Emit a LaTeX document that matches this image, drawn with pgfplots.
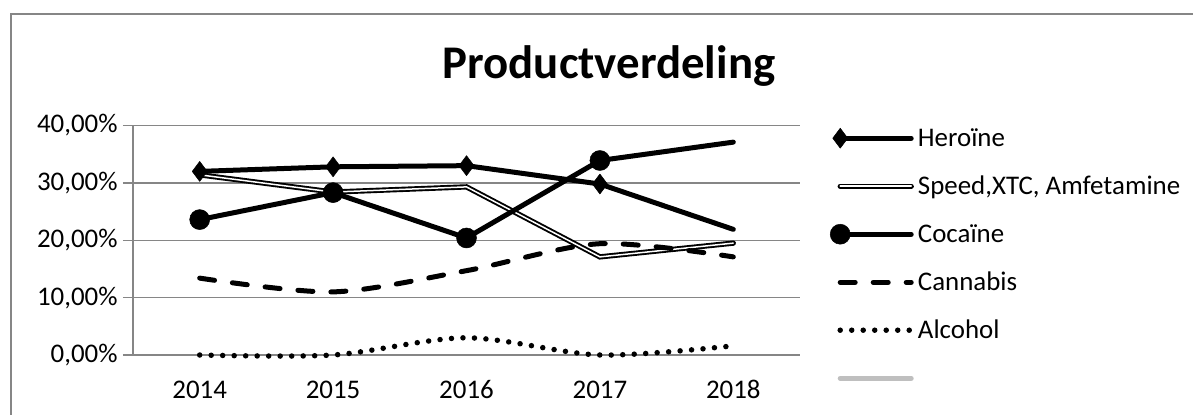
\documentclass[border=0pt]{standalone}
\usepackage{pgfplots}
\pgfplotsset{compat=1.18}
\usepackage{fontspec}
\setmainfont{Carlito}
\definecolor{axgray}{HTML}{868686}
\definecolor{lgray}{HTML}{BFBFBF}
\pgfplotstableread{
x heroine speed cocaine cannabis alcohol
0 32.0 31.4 23.6 13.4 0.0
1 32.8 28.4 28.3 11.0 0.0
2 33.0 29.3 20.4 14.7 3.0
3 29.8 17.1 33.9 19.4 0.0
4 21.9 19.5 37.1 17.1 1.6
}\datatable
\begin{document}
\begin{tikzpicture}[x=1bp,y=1bp]
\useasboundingbox (0,0) rectangle (1193,414);
\draw[axgray, line width=1.5bp] (11,-10) -- (11,400) -- (1210,400);
\node[font=\fontsize{47}{56}\selectfont\bfseries, anchor=base] at (609,336) {Productverdeling};
\begin{axis}[
  at={(133bp,59bp)}, anchor=south west,
  scale only axis, width=667bp, height=229.5bp,
  xmin=-0.5, xmax=4.5, ymin=0, ymax=40,
  axis x line*=bottom, axis y line*=left,
  axis line style={axgray, line width=1.5bp, -},
  xtick={0,1,2,3,4},
  xticklabels={2014,2015,2016,2017,2018},
  x tick style={draw=none},
  minor xtick={-0.5,0.5,1.5,2.5,3.5,4.5},
  minor x tick style={axgray, line width=1.5bp},
  ytick={0,10,20,30,40},
  yticklabels={{0,00\%},{10,00\%},{20,00\%},{30,00\%},{40,00\%}},
  y tick style={axgray, line width=1.5bp},
  tick align=outside,
  major tick length=10bp, minor tick length=10bp,
  ymajorgrids, grid style={axgray, line width=1.5bp},
  ticklabel style={font=\fontsize{27}{32}\selectfont},
  yticklabel style={xshift=-2bp},
  xticklabel style={text height=18bp, text depth=0bp, yshift=-12bp},
  clip=false,
  legend cell align=left,
  legend style={at={(1.045,1.0004)}, anchor=north west, draw=none, fill=none, inner sep=0pt,
    font=\fontsize{27}{32}\selectfont,
    nodes={inner sep=0pt, text height=21bp, text depth=4.2bp},
    row sep=22.8bp, column sep=4bp},
  legend image code/.code={\path[draw=none, fill=none, double=none] (0bp,-12.6bp) rectangle (78bp,12.6bp);
    \draw[#1, mark indices={1}] plot coordinates {(5bp,0bp) (76bp,0bp)};},
]
\addplot[black, line width=5bp, line cap=round, line join=round, mark=diamond*, mark size=10bp, mark indices={1,2,3,4}, mark options={solid, line width=0.5bp}] table[x=x,y=heroine] {\datatable};
\addlegendentry{Heroïne}
\addplot[black, line width=1.9bp, line cap=round, double=white, double distance=1.5bp] table[x=x,y=speed] {\datatable};
\addlegendentry{Speed,XTC, Amfetamine}
\addplot[black, line width=5bp, line cap=round, line join=round, mark=*, mark size=10bp, mark indices={1,2,3,4}, mark options={solid, line width=0.5bp}] table[x=x,y=cocaine] {\datatable};
\addlegendentry{Cocaïne}
\addplot[black, line width=5bp, smooth, line cap=round, dash pattern=on 15bp off 18bp] table[x=x,y=cannabis] {\datatable};
\addlegendentry{Cannabis}
\addplot[black, line width=5.5bp, smooth, line cap=round, dash pattern=on 0bp off 11.5bp] table[x=x,y=alcohol] {\datatable};
\addlegendentry{Alcohol}
\addlegendimage{lgray, line width=5bp, line cap=round}
\addlegendentry{\phantom{X}}
\end{axis}
\end{tikzpicture}
\end{document}
